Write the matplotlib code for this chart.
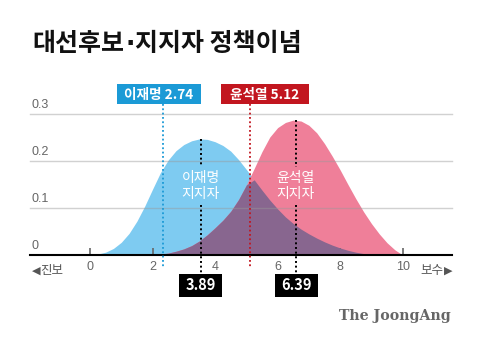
import matplotlib
matplotlib.use('Agg')
import matplotlib.pyplot as plt
from matplotlib.patches import Rectangle
import numpy as np

plt.rcParams['font.family'] = ['Noto Sans CJK KR', 'DejaVu Sans']

# curve points (x = ideology score, y = density)
lee_x = [0.0, 0.25, 0.5, 0.75, 1.0, 1.25, 1.5, 1.75, 2.0, 2.25, 2.5, 2.75, 3.0, 3.25,
         3.5, 3.75, 4.0, 4.25, 4.5, 4.75, 5.0, 5.25, 5.5, 5.75, 6.0, 6.25, 6.5, 6.75,
         7.0, 7.25, 7.5, 7.75, 8.0, 8.25, 8.5, 8.75, 9.0, 9.25]
lee_y = [0.000, 0.002, 0.006, 0.014, 0.027, 0.046, 0.072, 0.104, 0.140, 0.175, 0.202,
         0.222, 0.235, 0.243, 0.247, 0.246, 0.241, 0.233, 0.221, 0.203, 0.182, 0.160,
         0.138, 0.117, 0.098, 0.081, 0.067, 0.055, 0.045, 0.036, 0.028, 0.021, 0.015,
         0.010, 0.006, 0.003, 0.001, 0.000]
yoon_x = [2.0, 2.25, 2.5, 2.75, 3.0, 3.25, 3.5, 3.75, 4.0, 4.25, 4.5, 4.75, 5.0, 5.25,
          5.5, 5.75, 6.0, 6.25, 6.5, 6.75, 7.0, 7.25, 7.5, 7.75, 8.0, 8.25, 8.5, 8.75,
          9.0, 9.25, 9.5, 9.75, 10.0]
yoon_y = [0.000, 0.002, 0.004, 0.008, 0.013, 0.020, 0.030, 0.043, 0.058, 0.074, 0.093,
          0.118, 0.149, 0.184, 0.220, 0.251, 0.271, 0.282, 0.287, 0.285, 0.276, 0.260,
          0.237, 0.210, 0.181, 0.150, 0.120, 0.092, 0.067, 0.045, 0.026, 0.011, 0.000]

# marker positions as drawn, with their printed labels
cand_pos = [2.34, 5.12]
cand_labels = ['이재명 2.74', '윤석열 5.12']
supp_pos = [3.54, 6.58]
supp_labels = ['3.89', '6.39']
supp_names = ['이재명\n지지자', '윤석열\n지지자']
supp_peaks = [0.247, 0.287]

xticks = [0, 2, 4, 6, 8, 10]
yticks = [0, 0.1, 0.2, 0.3]
ytick_labels = ['0', '0.1', '0.2', '0.3']

BLUE = '#7ecbf1'
PINK = '#ef7f99'
PURPLE = '#88668f'
BLUE_DARK = '#1b9ad6'
RED_DARK = '#c2161f'
SANS = ['Liberation Sans', 'DejaVu Sans']

W, H = 480, 345
fig = plt.figure(figsize=(W / 100, H / 100), dpi=100)
renderer = fig.canvas.get_renderer()


def fx(px):
    return px / W


def fy(py):
    return 1 - py / H


def box(x0, y0, x1, y1, color):
    fig.add_artist(Rectangle((fx(x0), fy(y1)), fx(x1) - fx(x0), fy(y0) - fy(y1),
                             transform=fig.transFigure, color=color, lw=0))


ax = fig.add_axes([fx(30), fy(255), fx(452) - fx(30), fy(114) - fy(255)])
ax.set_xlim(-1.919, 11.577)
ax.set_ylim(0, 0.3)
for s in ax.spines.values():
    s.set_visible(False)

# filled curves and their overlap
grid = np.union1d(lee_x, yoon_x)
lee_i = np.interp(grid, lee_x, lee_y, left=0, right=0)
yoon_i = np.interp(grid, yoon_x, yoon_y, left=0, right=0)
ax.fill_between(lee_x, 0, lee_y, color=BLUE, lw=0, zorder=1)
ax.fill_between(yoon_x, 0, yoon_y, color=PINK, lw=0, zorder=1)
ax.fill_between(grid, 0, np.minimum(lee_i, yoon_i), color=PURPLE, lw=0, zorder=2)

# grid and baseline
for v, lab in zip(yticks, ytick_labels):
    if v > 0:
        ax.axhline(v, color='#999999', alpha=0.45, lw=1, zorder=3, clip_on=False)
    ax.text(-1.86, v + 0.006, lab, ha='left', va='bottom', fontsize=9, color='#666666',
            family=SANS)
ax.axhline(0, color='black', lw=1.5, zorder=4, clip_on=False)

ax.set_xticks(xticks)
ax.set_xticklabels([str(t) for t in xticks], family=SANS)
ax.set_yticks([])
ax.tick_params(axis='x', direction='in', length=5, width=1.2, color='#666666',
               labelsize=9, labelcolor='#666666', pad=4)
ax.text(-1.87, -0.034, '◀', ha='left', va='center', fontsize=8, color='#555555',
        family=['DejaVu Sans'])
ax.text(-1.60, -0.034, '진보', ha='left', va='center', fontsize=9, color='#555555')
ax.text(11.58, -0.034, '▶', ha='right', va='center', fontsize=8, color='#555555',
        family=['DejaVu Sans'])
ax.text(11.31, -0.034, '보수', ha='right', va='center', fontsize=9, color='#555555')

# candidate dotted lines and label boxes
dot = (0, (1, 1.4))
ax.plot([cand_pos[0]] * 2, [0.321, -0.028], color=BLUE_DARK, lw=1.3, ls=dot,
        clip_on=False, zorder=5)
ax.plot([cand_pos[1]] * 2, [0.321, -0.028], color=RED_DARK, lw=1.3, ls=dot,
        clip_on=False, zorder=5)
box(117, 84, 201, 104, BLUE_DARK)
fig.text(fx(159), fy(94.5), cand_labels[0], ha='center', va='center', color='white',
         fontsize=9.8, fontweight='bold')
box(221, 84, 309, 104, RED_DARK)
fig.text(fx(265), fy(94.5), cand_labels[1], ha='center', va='center', color='white',
         fontsize=9.8, fontweight='bold')

# supporter mean lines, names and boxes
for xp, peak, name, lab, bx in zip(supp_pos, supp_peaks, supp_names, supp_labels, [200.5, 296]):
    ax.plot([xp, xp], [peak, 0.188], color='black', lw=1.4, ls=dot, clip_on=False, zorder=5)
    ax.plot([xp, xp], [0.106, -0.041], color='black', lw=1.4, ls=dot, clip_on=False, zorder=5)
    ax.text(xp, 0.147, name, ha='center', va='center', color='white', fontsize=10,
            linespacing=1.2, zorder=6, fontweight='medium')
    box(bx - 21.5, 274, bx + 21.5, 297, 'black')
    fig.text(fx(bx), fy(285.5), lab, ha='center', va='center', color='white',
             fontsize=10.5, fontweight='bold')

# title in pieces so the middle dot stays narrow
tx = 32
for part, fam, gap in [('대선후보', None, 1), ('·', ['DejaVu Sans'], 1), ('지지자 정책이념', None, 0)]:
    kw = dict(ha='left', va='center', fontsize=18, fontweight='black', color='#111111')
    if fam:
        kw['family'] = fam
    t = fig.text(fx(tx), fy(44), part, **kw)
    tx += t.get_window_extent(renderer).width + gap

fig.text(fx(451), fy(316), 'The JoongAng', ha='right', va='center', fontsize=10.2,
         fontweight='bold', color='#666666', family=['DejaVu Serif'])

fig.savefig('out.png', dpi=100)
